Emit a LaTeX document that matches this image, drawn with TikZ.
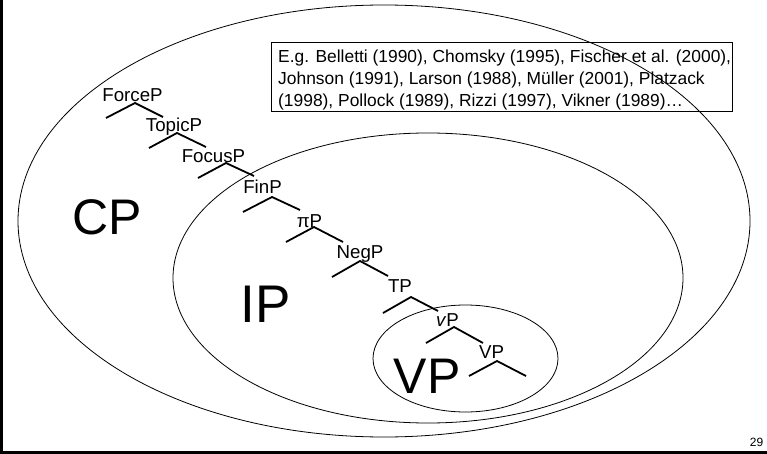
\documentclass[tikz,border=0pt]{standalone}
\usepackage{fontspec}
\setmainfont{Liberation Sans}
\begin{document}
\begin{tikzpicture}[x=1pt,y=-1pt,
  ell/.style={draw=black,line width=0.8pt},
  branch/.style={draw=black,line width=1.8pt},
  lab/.style={font=\fontsize{18.7}{20}\selectfont,inner sep=0pt,anchor=base},
  big/.style={font=\fontsize{50}{50}\selectfont,inner sep=0pt,anchor=base},
  reftext/.style={font=\fontsize{17.4}{21.5}\selectfont,inner sep=0pt,anchor=base west},
  framel/.style={draw=black,line width=3.2pt}]
\useasboundingbox (0,0) rectangle (767,454);
% frame
\coordinate (fTL) at (1.5,0);
\coordinate (fBL) at (1.5,452.2);
\coordinate (fBR) at (767,452.2);
\draw[framel] (fTL) -- (fBL) -- (fBR);
% reference box
\node[draw=black,line width=0.8pt,minimum width=461pt,minimum height=69pt,inner sep=0pt,anchor=north west] (box) at (271,42) {};
\node[reftext] (r1) at (278,63) {E.g. Belletti (1990), Chomsky (1995), Fischer et al. (2000),};
\node[reftext] (r2) at (278,85) {Johnson (1991), Larson (1988), Müller (2001), Platzack};
\node[reftext] (r3) at (278,106.5) {(1998), Pollock (1989), Rizzi (1997), Vikner (1989)…};
% ellipses
\draw[ell] (384,221) ellipse [x radius=366pt, y radius=216pt];
\draw[ell] (428,278) ellipse [x radius=255pt, y radius=145pt];
\draw[ell] (465.5,358.5) ellipse [x radius=92.5pt, y radius=53.5pt];
% big labels
\node[big] (CP) at (107.5,234) {CP};
\node[big,font=\fontsize{53}{53}\selectfont] (IP) at (266,322) {IP};
\node[big] (VPbig) at (427,393) {VP};
% tree
\foreach \name/\txt/\cx/\by/\ax/\ay/\lx/\ly/\rx/\ry in {
  force/ForceP/132.5/102/135/103/106/118/163/117,
  topic/TopicP/174/132/177/133/149/148/206/147,
  focus/FocusP/213.5/163/226/163/198/178/254/176,
  fin/FinP/262.5/194/272/197/243/212/300/210,
  pi/πP/309.5/227/314/227/286/242/343/242,
  neg/NegP/360/258/360/261/332/277/388/276,
  tp/TP/400/292/411/297/383/313/438/311,
  vp/\textit{v}P/447.5/326/454/327/426/343/483/343,
  VP/VP/491.5/358/497/361/469/376/526/376}{
  \node[lab] (\name) at (\cx,\by) {\txt};
  \coordinate (\name-a) at (\ax,\ay);
  \coordinate (\name-l) at (\lx,\ly);
  \coordinate (\name-r) at (\rx,\ry);
  \draw[branch] (\name-l) -- (\name-a) -- (\name-r);
}
% page number
\node[font=\fontsize{12}{12}\selectfont,inner sep=0pt,anchor=base east] (pg) at (763.5,446) {29};
\end{tikzpicture}
\end{document}
